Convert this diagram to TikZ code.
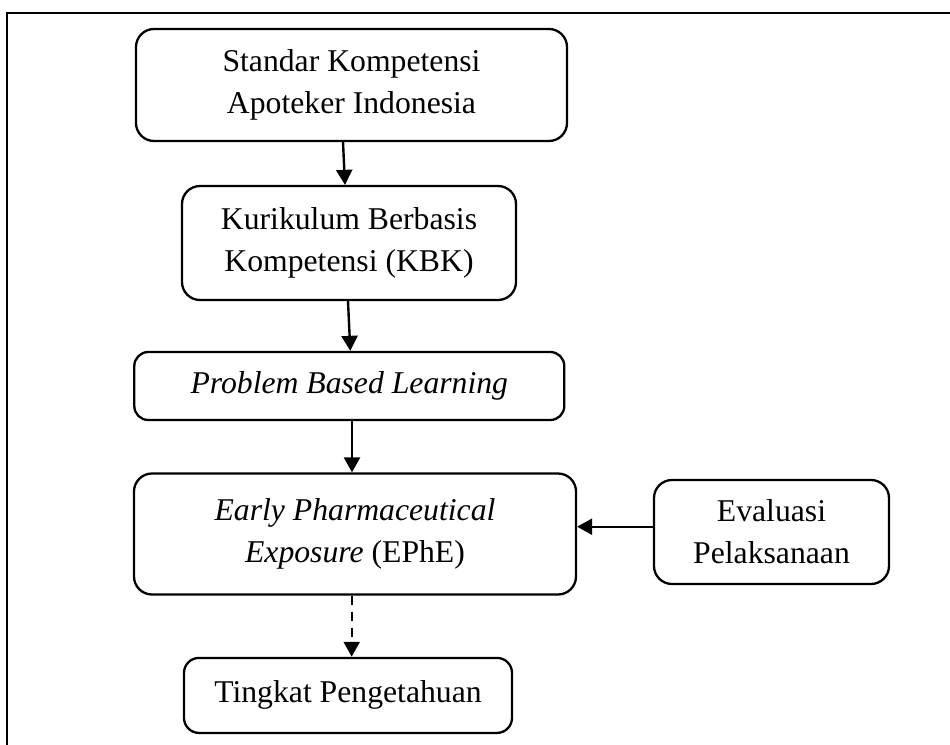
\documentclass[tikz,border=0pt]{standalone}
\usepackage{fontspec}
\setmainfont{Liberation Serif}
\usetikzlibrary{arrows.meta}
\begin{document}
\begin{tikzpicture}[x=1pt,y=-1pt,
  box/.style={draw,line width=2.3pt,rounded corners=18pt,align=center,inner sep=0pt,
    font=\fontsize{31.7}{42}\selectfont},
  arr/.style={line width=2.4pt,-{Triangle[length=15pt,width=16pt]}}]
\useasboundingbox (0,0) rectangle (950,744);
\draw[line width=2.5pt] (7,760) -- (7,13) -- (960,13);
\node[box,minimum width=431pt,minimum height=112pt] (b1) at (351.5,85) {Standar Kompetensi\\Apoteker Indonesia};
\node[box,minimum width=334pt,minimum height=114pt] (b2) at (349,243) {Kurikulum Berbasis\\Kompetensi (KBK)};
\node[box,rounded corners=14pt,minimum width=430pt,minimum height=68pt] (b3) at (349.3,386) {\itshape Problem Based Learning};
\node[box,minimum width=442pt,minimum height=121pt] (b4) at (355,534) {\itshape Early Pharmaceutical\\\textit{Exposure} (EPhE)};
\node[box,minimum width=235pt,minimum height=104pt] (e) at (771.5,532) {Evaluasi\\Pelaksanaan};
\node[box,rounded corners=15pt,minimum width=328pt,minimum height=75pt] (b5) at (348,695.4) {Tingkat Pengetahuan};
\draw[arr] ([xshift=-8.5pt]b1.south) -- ([xshift=-4pt]b2.north);
\draw[arr] ([xshift=-1pt]b2.south) -- ([xshift=1pt]b3.north);
\draw[arr] ([xshift=2.7pt]b3.south) -- ([xshift=-3pt]b4.north);
\draw[arr] ([yshift=5.3pt]e.west) -- ([yshift=5.3pt]e.west -| b4.east);
\draw[arr,dash pattern=on 9pt off 7pt] ([xshift=-3.3pt]b4.south) -- ([xshift=3.7pt]b5.north);
\end{tikzpicture}
\end{document}
